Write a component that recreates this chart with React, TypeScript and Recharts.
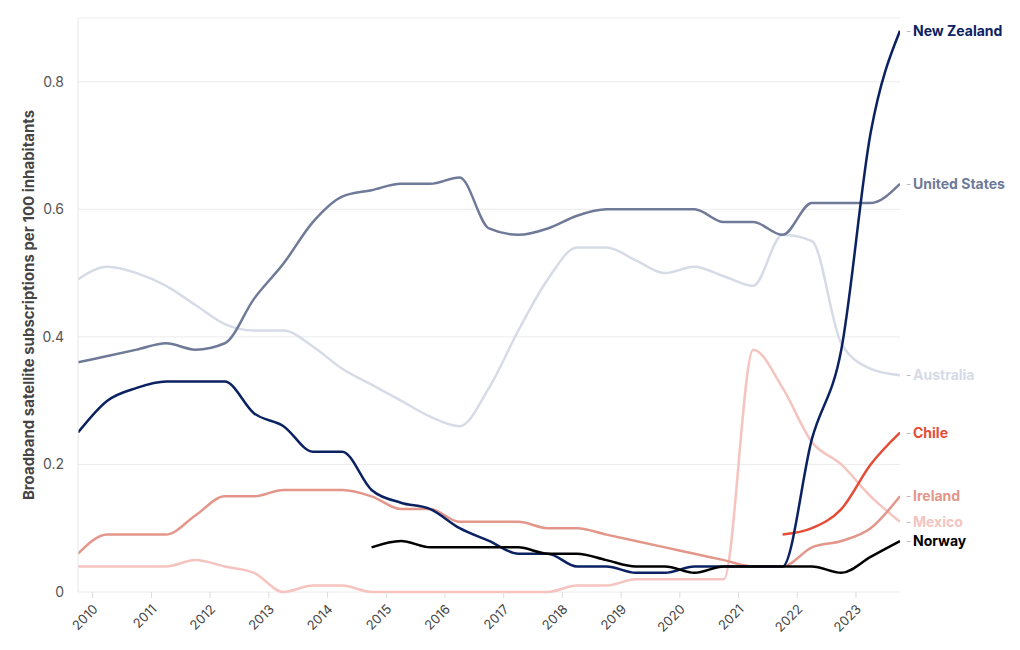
import React from "react";
import { LineChart, Line, XAxis, YAxis, CartesianGrid, Label } from "recharts";

// half-year observation points (fractional years)
const periods = [
  2009.75, 2010.25, 2010.75, 2011.25, 2011.75, 2012.25, 2012.75, 2013.25, 2013.75,
  2014.25, 2014.75, 2015.25, 2015.75, 2016.25, 2016.75, 2017.25, 2017.75, 2018.25,
  2018.75, 2019.25, 2019.75, 2020.25, 2020.75, 2021.25, 2021.75, 2022.25, 2022.75,
  2023.25, 2023.75,
];
const yearTicks = [2010, 2011, 2012, 2013, 2014, 2015, 2016, 2017, 2018, 2019, 2020, 2021, 2022, 2023];
const valueTicks = [0, 0.2, 0.4, 0.6, 0.8];

const newZealand = [
  0.25, 0.3, 0.32, 0.33, 0.33, 0.33, 0.28, 0.26, 0.22, 0.22, 0.16, 0.14, 0.13, 0.1, 0.08,
  0.06, 0.06, 0.04, 0.04, 0.03, 0.03, 0.04, 0.04, 0.04, 0.04, 0.24, 0.38, 0.72, 0.88,
];
const unitedStates = [
  0.36, 0.37, 0.38, 0.39, 0.38, 0.39, 0.46, 0.515, 0.58, 0.62, 0.63, 0.64, 0.64, 0.65, 0.57,
  0.56, 0.57, 0.59, 0.6, 0.6, 0.6, 0.6, 0.58, 0.58, 0.56, 0.61, 0.61, 0.61, 0.64,
];
const australia = [
  0.49, 0.51, 0.5, 0.48, 0.45, 0.42, 0.41, 0.41, 0.385, 0.35, 0.325, 0.3, 0.275, 0.26, 0.32,
  0.41, 0.49, 0.54, 0.54, 0.52, 0.5, 0.51, 0.495, 0.48, 0.56, 0.55, 0.39, 0.35, 0.34,
];
const chile = [
  null, null, null, null, null, null, null, null, null, null, null, null, null, null, null,
  null, null, null, null, null, null, null, null, null, 0.09, 0.1, 0.13, 0.2, 0.25,
];
const ireland = [
  0.06, 0.09, 0.09, 0.09, 0.12, 0.15, 0.15, 0.16, 0.16, 0.16, 0.15, 0.13, 0.13, 0.11, 0.11,
  0.11, 0.1, 0.1, 0.09, 0.08, 0.07, 0.06, 0.05, 0.04, 0.04, 0.07, 0.08, 0.1, 0.15,
];
const mexico = [
  0.04, 0.04, 0.04, 0.04, 0.05, 0.04, 0.03, 0, 0.01, 0.01, 0, 0, 0, 0, 0,
  0, 0, 0.01, 0.01, 0.02, 0.02, 0.02, 0.02, 0.38, 0.32, 0.235, 0.2, 0.15, 0.11,
];
const norway = [
  null, null, null, null, null, null, null, null, null, null, 0.07, 0.08, 0.07, 0.07, 0.07,
  0.07, 0.06, 0.06, 0.05, 0.04, 0.04, 0.03, 0.04, 0.04, 0.04, 0.04, 0.03, 0.055, 0.08,
];

const series = [
  { key: "australia", name: "Australia", color: "#d6dbe7", values: australia },
  { key: "unitedStates", name: "United States", color: "#6e7a98", values: unitedStates },
  { key: "mexico", name: "Mexico", color: "#f5c4bf", values: mexico },
  { key: "ireland", name: "Ireland", color: "#e3968a", values: ireland },
  { key: "chile", name: "Chile", color: "#e54b35", values: chile },
  { key: "newZealand", name: "New Zealand", color: "#0b2262", values: newZealand },
  { key: "norway", name: "Norway", color: "#000000", values: norway },
];

const data = periods.map((period, i) => {
  const row: Record<string, number | null> = { period };
  series.forEach((s) => {
    row[s.key] = s.values[i];
  });
  return row;
});

const FONT = "Inter, 'Noto Sans', sans-serif";

const endLabel = (name: string, color: string) => (props: any) => {
  const { x, y, index } = props;
  if (index !== data.length - 1 || x == null || y == null) return null;
  return (
    <g>
      <text x={x + 6} y={y} dy={4} fill="#b5b5b5" fontSize={11} fontFamily={FONT}>
        -
      </text>
      <text x={x + 13} y={y} dy={5} fill={color} fontSize={14} fontWeight={700} fontFamily={FONT}>
        {name}
      </text>
    </g>
  );
};

const YearTick = (props: any) => {
  const { x, payload } = props;
  return (
    <text
      x={x + 6}
      y={610}
      textAnchor="end"
      transform={`rotate(-45, ${x + 6}, 610)`}
      fill="#444"
      fontSize={13}
      fontFamily={FONT}
    >
      {payload.value}
    </text>
  );
};

export default function App() {
  return (
    <div style={{ position: "absolute", left: 0, top: 0, background: "#fff" }}>
      <LineChart
        width={1020}
        height={650}
        data={data}
        margin={{ top: 18, right: 120, bottom: 0, left: 0 }}
      >
        <CartesianGrid vertical={false} stroke="#ececec" />
        <XAxis
          dataKey="period"
          type="number"
          domain={[2009.75, 2023.75]}
          ticks={yearTicks}
          allowDataOverflow
          height={58}
          axisLine={false}
          tickSize={6}
          tickLine={{ stroke: "#dddddd" }}
          tick={<YearTick />}
          interval={0}
        />
        <YAxis
          type="number"
          domain={[0, 0.9]}
          ticks={valueTicks}
          width={78}
          axisLine={{ stroke: "#e6e6e6" }}
          tickLine={false}
          tickMargin={8}
          tick={{ fill: "#555", fontSize: 14, fontFamily: FONT }}
          tickFormatter={(v: number) => (v === 0 ? "0" : String(v))}
        >
          <Label
            content={(p: any) => {
              const vb = p.viewBox || {};
              const cy = (vb.y ?? 18) + (vb.height ?? 574) / 2;
              return (
                <text
                  x={28}
                  y={cy}
                  textAnchor="middle"
                  dominantBaseline="central"
                  transform={`rotate(-90, 28, ${cy})`}
                  fill="#444"
                  fontSize={15}
                  fontWeight={700}
                  fontFamily={FONT}
                >
                  Broadband satellite subscriptions per 100 inhabitants
                </text>
              );
            }}
          />
        </YAxis>
        {series.map((s) => (
          <Line
            key={s.key}
            dataKey={s.key}
            type="monotone"
            stroke={s.color}
            strokeWidth={2.5}
            dot={false}
            activeDot={false}
            isAnimationActive={false}
            label={endLabel(s.name, s.color)}
          />
        ))}
      </LineChart>
    </div>
  );
}
